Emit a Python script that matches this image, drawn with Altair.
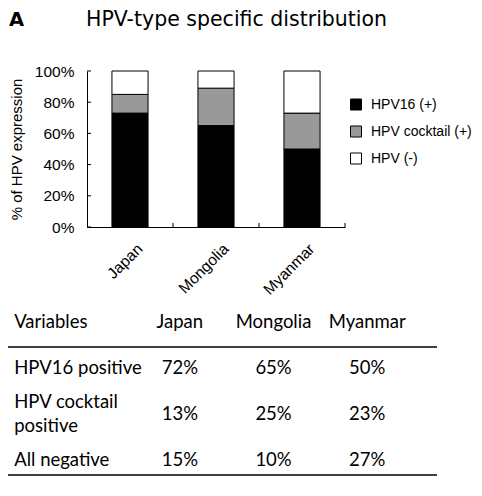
import altair as alt
import pandas as pd

# ---------------- data ----------------
panel_label = "A"
chart_title = "HPV-type specific distribution"
y_title = "% of HPV expression"

countries = ["Japan", "Mongolia", "Myanmar"]
series = ["HPV16 (+)", "HPV cocktail (+)", "HPV (-)"]
series_colors = ["#000000", "#999999", "#ffffff"]

# bar heights (% of cases)
bar_hpv16 = [73, 65, 50]
bar_cocktail = [12, 24, 23]
bar_negative = [15, 11, 27]

y_ticks = [0, 20, 40, 60, 80, 100]

# table below the chart
table_header = "Variables"
table_rows = ["HPV16 positive", "HPV cocktail positive", "All negative"]
table_row_text = ["HPV16 positive", "HPV cocktail\npositive", "All negative"]
tab_japan = [72, 13, 15]
tab_mongolia = [65, 25, 10]
tab_myanmar = [50, 23, 27]

# ---------------- tables for the library ----------------
bar_vals = [bar_hpv16, bar_cocktail, bar_negative]
bars_df = pd.DataFrame(
    [
        {"country": c, "series": s, "value": bar_vals[si][ci], "order": si}
        for si, s in enumerate(series)
        for ci, c in enumerate(countries)
    ]
)
ticks_df = pd.DataFrame({"tick": y_ticks})
cty_df = pd.DataFrame({"country": countries})

cols = [table_header] + countries
row_keys = ["header"] + table_rows
tab_vals = [tab_japan, tab_mongolia, tab_myanmar]
cells = [{"row": "header", "col": table_header, "text": table_header, "lines": 1}]
for c in countries:
    cells.append({"row": "header", "col": c, "text": c, "lines": 1})
for ri, r in enumerate(table_rows):
    t = table_row_text[ri]
    cells.append({"row": r, "col": table_header, "text": t, "lines": t.count("\n") + 1})
    for ci, c in enumerate(countries):
        cells.append({"row": r, "col": c, "text": f"{tab_vals[ci][ri]}%", "lines": 1})
table_df = pd.DataFrame(cells)

FONT = "Liberation Sans"
HFONT = "DejaVu Sans"
TFONT = "Lato"

# ---------------- bar chart ----------------
xband = alt.Scale(domain=countries, paddingInner=0, paddingOuter=0)
yq = alt.Scale(domain=[0, 100], nice=False)

x_axis = alt.Axis(
    title=None,
    labelAngle=-45,
    ticks=False,
    domainColor="black",
    labelFont=FONT,
    labelFontSize=15.5,
    labelColor="black",
    labelPadding=14,
    labelOffset=5,
)
y_axis = alt.Axis(
    values=y_ticks,
    labelExpr="datum.value + '%'",
    labelOverlap=False,
    grid=False,
    ticks=False,
    domainColor="black",
    labelFont=FONT,
    labelFontSize=15.5,
    labelColor="black",
    labelPadding=13,
    title=y_title,
    titleFont=FONT,
    titleFontSize=15,
    titleFontWeight="normal",
    titleColor="black",
    titlePadding=10,
)

bars = (
    alt.Chart(bars_df)
    .mark_bar(stroke="black", strokeWidth=1, width=alt.RelativeBandSize(0.42))
    .encode(
        x=alt.X("country:N", scale=xband, sort=countries, axis=x_axis),
        y=alt.Y("value:Q", stack="zero", scale=yq, axis=y_axis),
        color=alt.Color(
            "series:N",
            scale=alt.Scale(domain=series, range=series_colors),
            legend=alt.Legend(
                orient="none",
                legendX=262,
                legendY=26.5,
                title=None,
                symbolType="square",
                symbolSize=121,
                symbolStrokeColor="black",
                symbolStrokeWidth=1,
                labelFont=FONT,
                labelFontSize=14,
                labelColor="black",
                labelOffset=8,
                rowPadding=11,
            ),
        ),
        order=alt.Order("order:Q"),
    )
)

yticks = (
    alt.Chart(ticks_df)
    .mark_rule(color="black", strokeWidth=1)
    .encode(y=alt.Y("tick:Q", scale=yq, axis=y_axis), x=alt.value(0), x2=alt.value(4))
)

xticks = (
    alt.Chart(cty_df)
    .mark_rule(color="black", strokeWidth=1)
    .encode(
        x=alt.X("country:N", scale=xband, sort=countries, bandPosition=1, axis=x_axis),
        y=alt.value(156),
        y2=alt.value(152),
    )
)

bar_group = alt.layer(bars, yticks, xticks)

# ---------------- table ----------------
tx = alt.Scale(type="point", domain=cols, range=[-0.8, 280.2], padding=0)
ty = alt.Scale(type="point", domain=row_keys, range=[251, 389], padding=0)

tab_base = alt.Chart(table_df)
enc = dict(
    x=alt.X("col:N", scale=tx, axis=None),
    y=alt.Y("row:N", scale=ty, axis=None),
    text="text:N",
)
first_col = (
    tab_base.transform_filter((alt.datum.col == table_header) & (alt.datum.lines == 1))
    .mark_text(align="left", baseline="middle", dx=-72, font=TFONT, fontSize=18.5, color="black")
    .encode(**enc)
)
first_col_wrapped = (
    tab_base.transform_filter((alt.datum.col == table_header) & (alt.datum.lines == 2))
    .mark_text(
        align="left", baseline="middle", dx=-72, dy=-12, font=TFONT, fontSize=18.5,
        color="black", lineBreak="\n", lineHeight=24,
    )
    .encode(**enc)
)
val_cols = (
    tab_base.transform_filter(alt.datum.col != table_header)
    .mark_text(align="center", baseline="middle", font=TFONT, fontSize=18.5, color="black")
    .encode(**enc)
)
rule_df = pd.DataFrame({"row": [table_rows[0], table_rows[-1]], "pos": ["top", "bottom"]})
rule_mid = (
    alt.Chart(rule_df)
    .transform_filter(alt.datum.pos == "top")
    .mark_rule(color="black", strokeWidth=1.5, yOffset=-21)
    .encode(y=alt.Y("row:N", scale=ty, axis=None), x=alt.value(-79), x2=alt.value(350))
)
rule_bot = (
    alt.Chart(rule_df)
    .transform_filter(alt.datum.pos == "bottom")
    .mark_rule(color="black", strokeWidth=1.5, yOffset=15)
    .encode(y=alt.Y("row:N", scale=ty, axis=None), x=alt.value(-79), x2=alt.value(350))
)
table_group = alt.layer(first_col, first_col_wrapped, val_cols, rule_mid, rule_bot)

# ---------------- headings ----------------
a_txt = (
    alt.Chart(pd.DataFrame({"t": [panel_label]}))
    .mark_text(align="left", baseline="alphabetic", font=HFONT, fontSize=19.5, fontWeight="bold", color="black")
    .encode(text="t:N", x=alt.value(-78), y=alt.value(-45))
)
title_txt = (
    alt.Chart(pd.DataFrame({"t": [chart_title]}))
    .mark_text(align="left", baseline="alphabetic", font=HFONT, fontSize=20.5, color="black")
    .encode(text="t:N", x=alt.value(-1), y=alt.value(-45))
)

chart = (
    alt.layer(bar_group, table_group, a_txt, title_txt)
    .resolve_scale(x="independent", y="independent", color="independent")
    .properties(
        width=258,
        height=156,
        padding={"left": 79, "top": 63, "right": 129, "bottom": 259},
        autosize=alt.AutoSizeParams(type="none"),
        background="white",
    )
    .configure_view(stroke=None)
)

chart.save("out.html", embed_options={"renderer": "svg", "actions": False})
